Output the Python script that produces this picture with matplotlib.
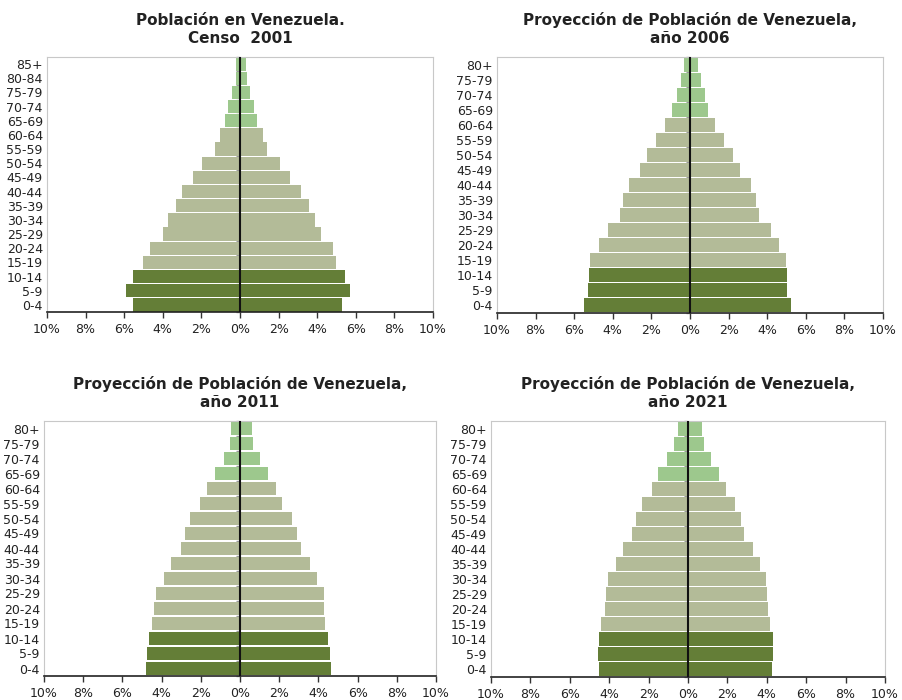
import matplotlib.pyplot as plt
import numpy as np

# age groups, bottom to top
ages_2001 = ["0-4", "5-9", "10-14", "15-19", "20-24", "25-29", "30-34", "35-39", "40-44",
             "45-49", "50-54", "55-59", "60-64", "65-69", "70-74", "75-79", "80-84", "85+"]
ages_proj = ["0-4", "5-9", "10-14", "15-19", "20-24", "25-29", "30-34", "35-39", "40-44",
             "45-49", "50-54", "55-59", "60-64", "65-69", "70-74", "75-79", "80+"]

# percent of total population (left side / right side)
left_2001 = [5.54, 5.91, 5.54, 5.03, 4.66, 3.99, 3.73, 3.32, 3.00, 2.44, 1.97, 1.30, 1.04, 0.78, 0.62, 0.41, 0.21, 0.21]
right_2001 = [5.28, 5.70, 5.44, 4.97, 4.82, 4.20, 3.89, 3.58, 3.16, 2.59, 2.07, 1.40, 1.19, 0.88, 0.73, 0.52, 0.36, 0.31]

left_2006 = [5.47, 5.27, 5.22, 5.16, 4.70, 4.23, 3.61, 3.45, 3.14, 2.57, 2.21, 1.74, 1.28, 0.92, 0.66, 0.45, 0.29]
right_2006 = [5.25, 5.04, 5.04, 4.99, 4.63, 4.21, 3.59, 3.44, 3.18, 2.61, 2.25, 1.78, 1.31, 0.95, 0.79, 0.59, 0.43]

left_2011 = [4.80, 4.74, 4.64, 4.49, 4.39, 4.29, 3.88, 3.52, 3.01, 2.81, 2.55, 2.04, 1.68, 1.28, 0.82, 0.51, 0.46]
right_2011 = [4.64, 4.59, 4.49, 4.34, 4.29, 4.29, 3.93, 3.57, 3.11, 2.91, 2.65, 2.14, 1.84, 1.43, 1.02, 0.66, 0.61]

left_2021 = [4.51, 4.56, 4.51, 4.40, 4.20, 4.15, 4.05, 3.64, 3.28, 2.82, 2.62, 2.36, 1.85, 1.50, 1.09, 0.73, 0.53]
right_2021 = [4.27, 4.32, 4.32, 4.17, 4.06, 4.01, 3.96, 3.66, 3.30, 2.84, 2.69, 2.38, 1.92, 1.56, 1.16, 0.80, 0.70]

titles = ["Población en Venezuela.\nCenso  2001",
          "Proyección de Población de Venezuela,\naño 2006",
          "Proyección de Población de Venezuela,\naño 2011",
          "Proyección de Población de Venezuela,\naño 2021"]

x_ticks = [-10, -8, -6, -4, -2, 0, 2, 4, 6, 8, 10]

DARK = "#647e37"
MID = "#b3bb98"
LIGHT = "#9dc88d"

plt.rcParams['font.family'] = ['DejaVu Sans']

fig = plt.figure(figsize=(9.03, 7), dpi=100)

# axes boxes in pixels: left, top, right, bottom
boxes = [(47, 57, 433, 312), (497, 57, 883, 313), (44, 421, 436, 676), (491, 421, 885, 677)]
datasets = [(ages_2001, left_2001, right_2001), (ages_proj, left_2006, right_2006),
            (ages_proj, left_2011, right_2011), (ages_proj, left_2021, right_2021)]

for (l, t, r, b), (ages, left, right), title in zip(boxes, datasets, titles):
    ax = fig.add_axes([l / 903, 1 - b / 700, (r - l) / 903, (b - t) / 700])
    y = np.arange(len(ages))
    colors = [DARK if i < 3 else (MID if i < 13 else LIGHT) for i in range(len(ages))]
    ax.barh(y, -np.array(left), height=0.93, color=colors)
    ax.barh(y, right, height=0.93, color=colors)

    ax.set_xlim(-10, 10)
    ax.set_ylim(-0.5, len(ages) - 0.5)
    ax.set_xticks(x_ticks)
    ax.set_xticklabels([f"{abs(v)}%" for v in x_ticks], fontsize=9, color="#222222")
    ax.set_yticks(y)
    ax.set_yticklabels(ages, fontsize=9, color="#222222")
    ax.tick_params(axis='y', length=0, pad=3)
    ax.tick_params(axis='x', length=4, width=1, color="#333333", pad=4)

    for side in ['top', 'right', 'left']:
        ax.spines[side].set_color("#c8c8c8")
    ax.spines['bottom'].set_color("#222222")
    ax.spines['bottom'].set_linewidth(1.2)

    # center axis: small gray ticks between groups plus a black line
    mid = ax.secondary_yaxis(0.5)
    mid.set_yticks(np.arange(len(ages) + 1) - 0.5)
    mid.tick_params(direction='in', length=3, width=1, color="#999999",
                    labelright=False, labelleft=False)
    mid.spines['right'].set_visible(False)
    mid.spines['left'].set_visible(False)
    ax.axvline(0, color="#111111", lw=1.5, zorder=5)

    ax.set_title(title, fontsize=11, fontweight='bold', color="#222222", pad=10, linespacing=1.3)

fig.savefig("out.png", dpi=100)
